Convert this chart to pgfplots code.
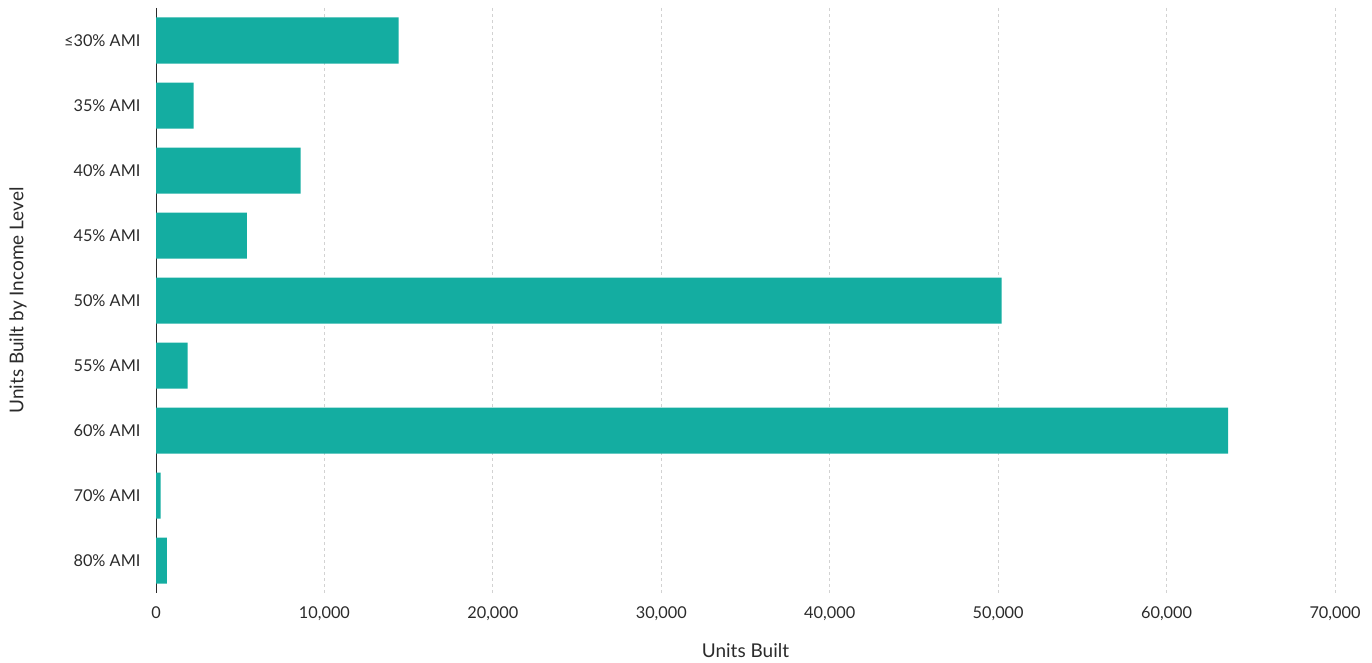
\documentclass[border=0pt]{standalone}
\usepackage{fontspec}
\setmainfont{Lato}
\usepackage{pgfplots}
\pgfplotsset{compat=1.18}
\definecolor{barc}{HTML}{14ADA1}
\definecolor{txt}{HTML}{2B2B2B}
\definecolor{grd}{HTML}{D2D2D2}
\pgfplotstableread{
y val
0 14410
1 2240
2 8590
3 5390
4 50200
5 1880
6 63660
7 280
8 650
}\datatab
\begin{document}
\begin{tikzpicture}
\begin{axis}[
  scale only axis, width=1179pt, height=585pt,
  xbar, bar width=46pt,
  xmin=0, xmax=70000, ymin=-0.5, ymax=8.5, y dir=reverse,
  axis lines*=left,
  x axis line style={draw=none},
  y axis line style={txt, line width=1pt},
  major tick length=0pt,
  xtick={0,10000,20000,30000,40000,50000,60000,70000},
  ytick={0,1,2,3,4,5,6,7,8},
  yticklabels={≤30\% AMI,35\% AMI,40\% AMI,45\% AMI,50\% AMI,55\% AMI,60\% AMI,70\% AMI,80\% AMI},
  scaled x ticks=false,
  /pgf/number format/.cd, 1000 sep={,}, assume math mode=true,
  /pgfplots/.cd,
  xmajorgrids, grid style={dash pattern=on 3pt off 3pt, grd, line width=0.8pt},
  ticklabel style={font=\fontsize{16.3}{19}\selectfont, text=txt},
  xticklabel style={yshift=-10pt},
  yticklabel style={xshift=-12pt},
  xlabel={Units Built}, ylabel={Units Built by Income Level},
  label style={font=\fontsize{19}{22}\selectfont, text=txt},
  xlabel style={at={(axis description cs:0.5,-0.0991)}, anchor=center},
  ylabel style={at={(axis description cs:-0.117,0.5)}, anchor=center},
]
\addplot[fill=barc, draw=none] table[x=val, y=y] {\datatab};
\end{axis}
\useasboundingbox ([shift={(-156pt,-69pt)}]current axis.south west) rectangle ([shift={(37pt,8pt)}]current axis.north east);
\end{tikzpicture}
\end{document}
